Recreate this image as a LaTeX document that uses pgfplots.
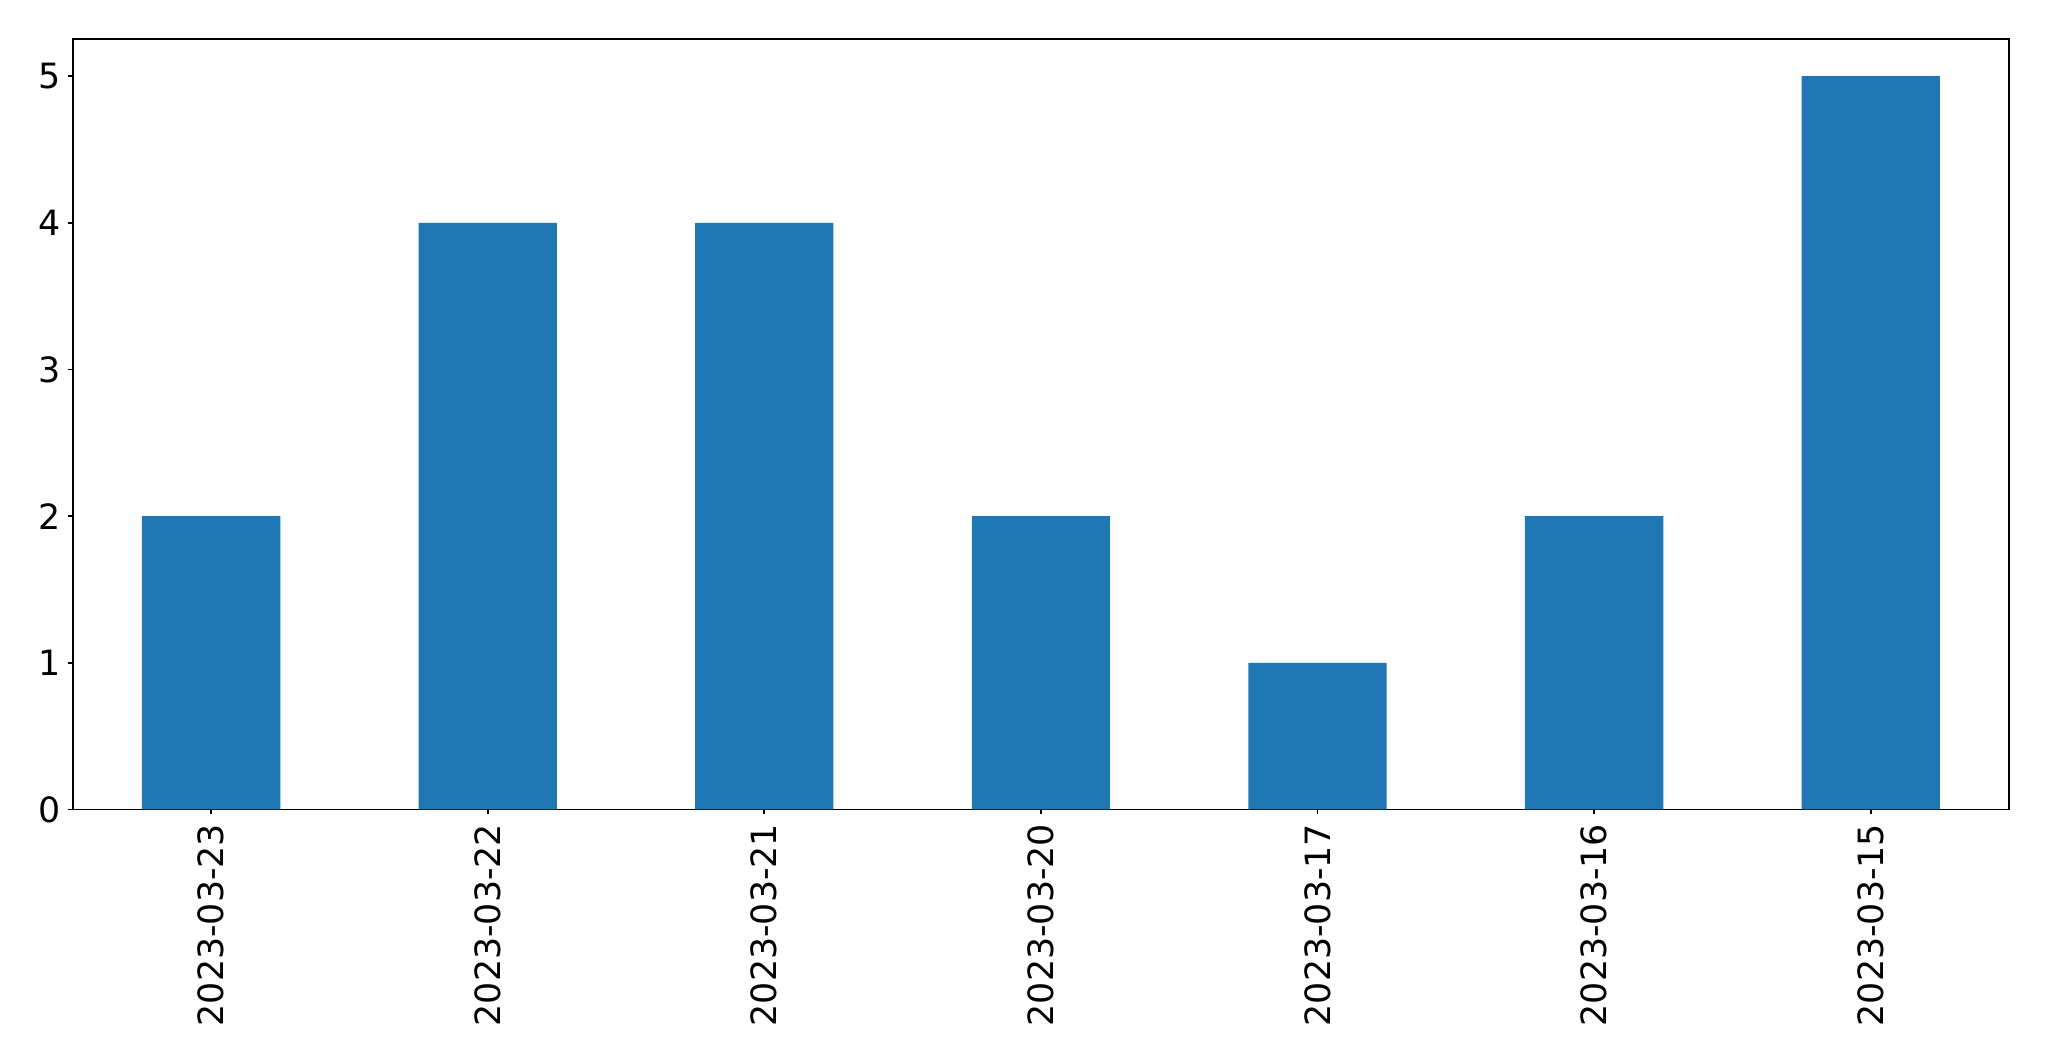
\documentclass[border=0pt]{standalone}
\usepackage{fontspec}
\setmainfont{DejaVu Sans}
\usepackage{pgfplots}
\pgfplotsset{compat=1.18}
\definecolor{mplblue}{HTML}{1F77B4}
\begin{document}
\begin{tikzpicture}
\begin{axis}[
  at={(0,0)}, anchor=south west,
  scale only axis,
  width=968pt, height=385pt,
  xmin=-0.5, xmax=6.5, ymin=0, ymax=5.25,
  ybar, bar width=0.5,
  xtick={0,1,2,3,4,5,6},
  xticklabels={2023-03-23,2023-03-22,2023-03-21,2023-03-20,2023-03-17,2023-03-16,2023-03-15},
  ytick={0,1,2,3,4,5},
  tick pos=left, tick align=outside,
  major tick length=2.5pt,
  axis line style={line width=0.9pt},
  every tick/.style={black, line width=0.9pt},
  tick label style={font=\fontsize{17.4}{20}\selectfont},
  /pgf/number format/assume math mode=true,
  xticklabel style={rotate=90, anchor=east, inner sep=4.5pt},
  yticklabel style={inner sep=3.5pt},
]
\addplot[fill=mplblue, draw=none] coordinates {(0,2) (1,4) (2,4) (3,2) (4,1) (5,2) (6,5)};
\end{axis}
\pgfresetboundingbox
\path[use as bounding box] (-36.4pt,-126pt) rectangle (988pt,404.7pt);
\end{tikzpicture}
\end{document}
